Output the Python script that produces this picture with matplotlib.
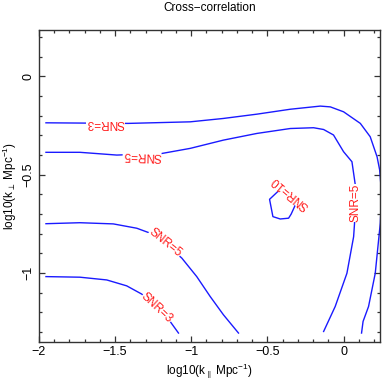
import matplotlib
matplotlib.use('Agg')
import matplotlib.pyplot as plt
from matplotlib.ticker import MultipleLocator, FuncFormatter

# contour traces (log10 k_par, log10 k_perp)
snr3_upper_x = [-1.954, -1.415, -1.007, -0.791, -0.569, -0.350, -0.153, -0.087, 0.0, 0.110, 0.175, 0.220, 0.237, 0.250, 0.241, 0.208, 0.164, 0.128, 0.118]
snr3_upper_y = [-0.237, -0.240, -0.232, -0.215, -0.193, -0.168, -0.152, -0.156, -0.181, -0.240, -0.308, -0.410, -0.477, -0.600, -0.748, -1.002, -1.171, -1.247, -1.306]

snr5_upper_x = [-1.954, -1.731, -1.489, -1.194, -1.007, -0.789, -0.569, -0.350, -0.197, -0.131, -0.066, 0.0, 0.055, 0.066, 0.077, 0.075, 0.072, 0.066, 0.022, -0.055, -0.131]
snr5_upper_y = [-0.387, -0.387, -0.401, -0.393, -0.367, -0.325, -0.291, -0.266, -0.262, -0.271, -0.299, -0.384, -0.435, -0.494, -0.553, -0.650, -0.748, -0.816, -1.002, -1.171, -1.298]

snr10_x = [-0.416, -0.486, -0.464, -0.416, -0.361, -0.344, -0.317, -0.364, -0.416]
snr10_y = [-0.575, -0.626, -0.714, -0.726, -0.722, -0.701, -0.655, -0.604, -0.575]

snr5_lower_x = [-1.954, -1.731, -1.512, -1.358, -1.270, -1.172, -1.062, -0.964, -0.876, -0.789, -0.690]
snr5_lower_y = [-0.750, -0.745, -0.751, -0.773, -0.798, -0.849, -0.925, -1.019, -1.120, -1.213, -1.306]

snr3_lower_x = [-1.954, -1.731, -1.555, -1.424, -1.325, -1.226, -1.139, -1.084]
snr3_lower_y = [-1.019, -1.022, -1.036, -1.066, -1.108, -1.179, -1.247, -1.306]

# contour labels: text, x, y, rotation
label_text = ['SNR=3', 'SNR=5', 'SNR=10', 'SNR=5', 'SNR=5', 'SNR=3']
label_x = [-1.561, -1.323, -0.350, 0.077, -1.172, -1.226]
label_y = [-0.239, -0.401, -0.595, -0.645, -0.849, -1.179]
label_rot = [180, 178, 140, 90, -39, -43]

plt.rcParams['font.family'] = ['Liberation Sans', 'DejaVu Sans']
plt.rcParams['mathtext.fontset'] = 'custom'
plt.rcParams['mathtext.rm'] = 'Liberation Sans'
plt.rcParams['mathtext.it'] = 'Liberation Sans'

fig = plt.figure(figsize=(3.82, 3.82), dpi=100)
ax = fig.add_axes([0.102, 0.1055, 0.8915, 0.816])

line_kw = dict(color='#1a1aff', lw=1.0)
ax.plot(snr3_upper_x, snr3_upper_y, **line_kw)
ax.plot(snr5_upper_x, snr5_upper_y, **line_kw)
ax.plot(snr10_x, snr10_y, **line_kw)
ax.plot(snr5_lower_x, snr5_lower_y, **line_kw)
ax.plot(snr3_lower_x, snr3_lower_y, **line_kw)

for txt, x, y, r in zip(label_text, label_x, label_y, label_rot):
    ax.text(x, y, txt, color='#ff1a1a', fontsize=8.5, rotation=r,
            rotation_mode='anchor', ha='center', va='center',
            bbox=dict(facecolor='white', edgecolor='none', pad=0.2))

ax.set_xlim(-2, 0.236)
ax.set_ylim(-1.35, 0.235)

fmt = FuncFormatter(lambda v, p: ('%g' % round(v, 3)).replace('-', '\u2212'))
ax.xaxis.set_major_locator(MultipleLocator(0.5))
ax.xaxis.set_minor_locator(MultipleLocator(0.1))
ax.yaxis.set_major_locator(MultipleLocator(0.5))
ax.yaxis.set_minor_locator(MultipleLocator(0.1))
ax.xaxis.set_major_formatter(fmt)
ax.yaxis.set_major_formatter(fmt)
ax.tick_params(which='both', direction='in', top=True, right=True, colors='#333333', labelcolor='black', labelsize=9)
ax.tick_params(which='major', length=4.5, width=0.9, pad=3)
ax.tick_params(which='minor', length=2.5, width=0.9)
ax.tick_params(axis='y', labelrotation=90)
for lab in ax.get_yticklabels():
    lab.set_va('center')
for s in ax.spines.values():
    s.set_color('#333333')
    s.set_linewidth(1.0)

ax.set_xlabel(r'log10(k$_\parallel$ Mpc$^{-1}$)', fontsize=8.5, labelpad=2.5)
ax.set_ylabel(r'log10(k$_\perp$ Mpc$^{-1}$)', fontsize=8.5, labelpad=3)
ax.set_title('Cross\u2212correlation', fontsize=8.5, pad=14)

plt.savefig('out.png', dpi=100)
